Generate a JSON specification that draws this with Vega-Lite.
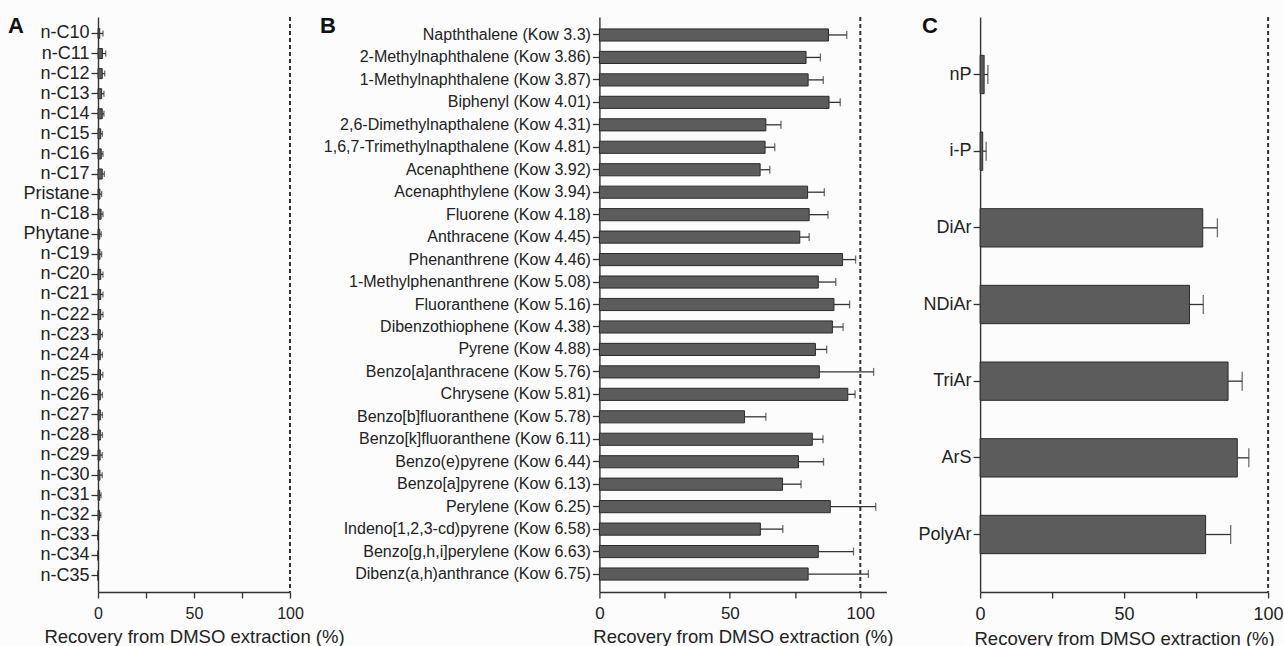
{
  "$schema": "https://vega.github.io/schema/vega-lite/v6.json",
  "background": "#fcfcfc",
  "padding": {"left": 8, "top": 15, "right": 0, "bottom": 0},
  "autosize": {"type": "pad"},
  "bounds": "flush",
  "align": "none",
  "spacing": 93.7,
  "config": {
    "view": {"stroke": null},
    "font": "Liberation Sans",
    "axis": {
      "grid": false,
      "domainColor": "#333333",
      "domainWidth": 1.4,
      "tickColor": "#333333",
      "tickWidth": 1.3,
      "labelColor": "#222222",
      "titleColor": "#222222",
      "titleFontWeight": "normal",
      "labelFont": "Liberation Sans",
      "titleFont": "Liberation Sans"
    },
    "title": {"font": "Liberation Sans", "fontWeight": "bold", "fontSize": 22, "color": "#111111", "anchor": "start", "frame": "group", "offset": 0, "baseline": "alphabetic", "dy": 26}
  },
  "datasets": {
    "a": [
      {"compound": "n-C10", "recovery": 0.9, "upper": 2.6},
      {"compound": "n-C11", "recovery": 2.3, "upper": 4.0},
      {"compound": "n-C12", "recovery": 2.2, "upper": 3.5},
      {"compound": "n-C13", "recovery": 1.9, "upper": 3.1},
      {"compound": "n-C14", "recovery": 2.2, "upper": 3.1},
      {"compound": "n-C15", "recovery": 1.4, "upper": 2.3},
      {"compound": "n-C16", "recovery": 1.7, "upper": 2.6},
      {"compound": "n-C17", "recovery": 2.2, "upper": 3.3},
      {"compound": "Pristane", "recovery": 1.0, "upper": 1.9},
      {"compound": "n-C18", "recovery": 1.6, "upper": 2.6},
      {"compound": "Phytane", "recovery": 0.9, "upper": 1.7},
      {"compound": "n-C19", "recovery": 1.0, "upper": 1.9},
      {"compound": "n-C20", "recovery": 1.4, "upper": 2.6},
      {"compound": "n-C21", "recovery": 1.4, "upper": 2.6},
      {"compound": "n-C22", "recovery": 1.4, "upper": 2.6},
      {"compound": "n-C23", "recovery": 1.2, "upper": 2.3},
      {"compound": "n-C24", "recovery": 1.2, "upper": 2.3},
      {"compound": "n-C25", "recovery": 1.3, "upper": 2.5},
      {"compound": "n-C26", "recovery": 1.2, "upper": 2.3},
      {"compound": "n-C27", "recovery": 1.2, "upper": 2.3},
      {"compound": "n-C28", "recovery": 1.2, "upper": 2.3},
      {"compound": "n-C29", "recovery": 1.1, "upper": 2.2},
      {"compound": "n-C30", "recovery": 1.0, "upper": 2.2},
      {"compound": "n-C31", "recovery": 0.9, "upper": 1.6},
      {"compound": "n-C32", "recovery": 0.8, "upper": 1.5},
      {"compound": "n-C33", "recovery": 0, "upper": 0},
      {"compound": "n-C34", "recovery": 0, "upper": 0},
      {"compound": "n-C35", "recovery": 0, "upper": 0}
    ],
    "b": [
      {"compound": "Napththalene (Kow 3.3)", "recovery": 87.8, "upper": 94.8},
      {"compound": "2-Methylnaphthalene (Kow 3.86)", "recovery": 79.2, "upper": 84.7},
      {"compound": "1-Methylnaphthalene (Kow 3.87)", "recovery": 80.0, "upper": 85.8},
      {"compound": "Biphenyl (Kow 4.01)", "recovery": 88.0, "upper": 92.3},
      {"compound": "2,6-Dimethylnapthalene (Kow 4.31)", "recovery": 63.8, "upper": 69.6},
      {"compound": "1,6,7-Trimethylnapthalene (Kow 4.81)", "recovery": 63.5, "upper": 67.2},
      {"compound": "Acenaphthene (Kow 3.92)", "recovery": 61.6, "upper": 65.3},
      {"compound": "Acenaphthylene (Kow 3.94)", "recovery": 79.8, "upper": 86.2},
      {"compound": "Fluorene (Kow 4.18)", "recovery": 80.4, "upper": 87.6},
      {"compound": "Anthracene (Kow 4.45)", "recovery": 76.8, "upper": 80.4},
      {"compound": "Phenanthrene (Kow 4.46)", "recovery": 93.2, "upper": 98.2},
      {"compound": "1-Methylphenanthrene (Kow 5.08)", "recovery": 83.9, "upper": 90.6},
      {"compound": "Fluoranthene (Kow 5.16)", "recovery": 89.9, "upper": 95.9},
      {"compound": "Dibenzothiophene (Kow 4.38)", "recovery": 89.3, "upper": 93.4},
      {"compound": "Pyrene (Kow 4.88)", "recovery": 82.8, "upper": 87.1},
      {"compound": "Benzo[a]anthracene (Kow 5.76)", "recovery": 84.3, "upper": 105.1},
      {"compound": "Chrysene (Kow 5.81)", "recovery": 95.2, "upper": 98.0},
      {"compound": "Benzo[b]fluoranthene (Kow 5.78)", "recovery": 55.6, "upper": 63.8},
      {"compound": "Benzo[k]fluoranthene (Kow 6.11)", "recovery": 81.6, "upper": 85.7},
      {"compound": "Benzo(e)pyrene (Kow 6.44)", "recovery": 76.3, "upper": 85.9},
      {"compound": "Benzo[a]pyrene (Kow 6.13)", "recovery": 70.2, "upper": 77.3},
      {"compound": "Perylene (Kow 6.25)", "recovery": 88.5, "upper": 105.9},
      {"compound": "Indeno[1,2,3-cd)pyrene (Kow 6.58)", "recovery": 61.7, "upper": 70.3},
      {"compound": "Benzo[g,h,i]perylene (Kow 6.63)", "recovery": 83.9, "upper": 97.4},
      {"compound": "Dibenz(a,h)anthrance (Kow 6.75)", "recovery": 80.0, "upper": 103.1}
    ],
    "c": [
      {"compound": "nP", "recovery": 1.4, "upper": 2.7},
      {"compound": "i-P", "recovery": 0.9, "upper": 2.1},
      {"compound": "DiAr", "recovery": 77.3, "upper": 82.4},
      {"compound": "NDiAr", "recovery": 72.7, "upper": 77.5},
      {"compound": "TriAr", "recovery": 86.1, "upper": 91.0},
      {"compound": "ArS", "recovery": 89.3, "upper": 93.3},
      {"compound": "PolyAr", "recovery": 78.3, "upper": 87.0}
    ]
  },
  "hconcat": [
    {
      "width": 192,
      "height": 575,
      "title": {"text": "A", "dx": -90},
      "layer": [
        {
          "data": {"name": "a"},
          "mark": {"type": "bar", "fill": "#5c5c5c", "stroke": "#2b2b2b", "strokeWidth": 1},
          "encoding": {
            "y": {"field": "compound", "type": "nominal", "sort": null, "scale": {"paddingInner": 0.5, "paddingOuter": 0.57}, "axis": {"title": null, "labelFontSize": 18, "tickSize": 7, "labelPadding": 2}},
            "x": {"field": "recovery", "type": "quantitative", "scale": {"domain": [0, 100], "nice": false}, "axis": {"title": "Recovery from DMSO extraction (%)", "values": [0, 25, 50, 75, 100], "labelExpr": "datum.value % 50 === 0 ? datum.label : ''", "tickSize": 6, "labelPadding": 7, "labelFontSize": 16, "titleFontSize": 18.5, "titlePadding": 6, "labelFlush": false, "labelOverlap": false}}
          }
        },
        {
          "data": {"name": "a"},
          "mark": {"type": "rule", "color": "#333333", "strokeWidth": 1.3},
          "encoding": {
            "y": {"field": "compound", "type": "nominal", "sort": null},
            "x": {"field": "recovery", "type": "quantitative"},
            "x2": {"field": "upper"}
          }
        },
        {
          "data": {"name": "a"},
          "mark": {"type": "tick", "color": "#333333", "thickness": 1.3, "size": 6},
          "encoding": {
            "y": {"field": "compound", "type": "nominal", "sort": null},
            "x": {"field": "upper", "type": "quantitative"}
          }
        },
        {
          "data": {"values": [{}]},
          "mark": {"type": "rule", "color": "#333333", "strokeWidth": 2, "strokeDash": [4, 3]},
          "encoding": {"x": {"datum": 100}}
        }
      ]
    },
    {
      "width": 121.6,
      "height": 575,
      "data": {"values": []},
      "mark": "point"
    },
    {
      "width": 287,
      "height": 575,
      "title": {"text": "B", "dx": -279.3},
      "layer": [
        {
          "data": {"name": "b"},
          "mark": {"type": "bar", "fill": "#5c5c5c", "stroke": "#2b2b2b", "strokeWidth": 1},
          "encoding": {
            "y": {"field": "compound", "type": "nominal", "sort": null, "scale": {"paddingInner": 0.46, "paddingOuter": 0.53}, "axis": {"title": null, "labelFontSize": 16, "tickSize": 7, "labelPadding": 2, "labelLimit": 400}},
            "x": {"field": "recovery", "type": "quantitative", "scale": {"domain": [0, 110], "nice": false}, "axis": {"title": "Recovery from DMSO extraction (%)", "values": [0, 25, 50, 75, 100], "labelExpr": "datum.value % 50 === 0 ? datum.label : ''", "tickSize": 6, "labelPadding": 7, "labelFontSize": 17, "titleFontSize": 18.5, "titlePadding": 6, "labelFlush": false, "labelOverlap": false}}
          }
        },
        {
          "data": {"name": "b"},
          "mark": {"type": "rule", "color": "#333333", "strokeWidth": 1.3},
          "encoding": {
            "y": {"field": "compound", "type": "nominal", "sort": null},
            "x": {"field": "recovery", "type": "quantitative"},
            "x2": {"field": "upper"}
          }
        },
        {
          "data": {"name": "b"},
          "mark": {"type": "tick", "color": "#333333", "thickness": 1.3, "size": 8},
          "encoding": {
            "y": {"field": "compound", "type": "nominal", "sort": null},
            "x": {"field": "upper", "type": "quantitative"}
          }
        },
        {
          "data": {"values": [{}]},
          "mark": {"type": "rule", "color": "#333333", "strokeWidth": 2, "strokeDash": [4, 3]},
          "encoding": {"x": {"datum": 100}}
        }
      ]
    },
    {
      "width": 288,
      "height": 575,
      "title": {"text": "C", "dx": -58},
      "layer": [
        {
          "data": {"name": "c"},
          "mark": {"type": "bar", "fill": "#5c5c5c", "stroke": "#2b2b2b", "strokeWidth": 1},
          "encoding": {
            "y": {"field": "compound", "type": "nominal", "sort": null, "scale": {"paddingInner": 0.5, "paddingOuter": 0.5}, "axis": {"title": null, "labelFontSize": 18, "tickSize": 7, "labelPadding": 2}},
            "x": {"field": "recovery", "type": "quantitative", "scale": {"domain": [0, 100], "nice": false}, "axis": {"title": "Recovery from DMSO extraction (%)", "values": [0, 25, 50, 75, 100], "labelExpr": "datum.value % 50 === 0 ? datum.label : ''", "tickSize": 6, "labelPadding": 7, "labelFontSize": 18, "titleFontSize": 18.5, "titlePadding": 6, "labelFlush": false, "labelOverlap": false}}
          }
        },
        {
          "data": {"name": "c"},
          "mark": {"type": "rule", "color": "#333333", "strokeWidth": 1.3},
          "encoding": {
            "y": {"field": "compound", "type": "nominal", "sort": null},
            "x": {"field": "recovery", "type": "quantitative"},
            "x2": {"field": "upper"}
          }
        },
        {
          "data": {"name": "c"},
          "mark": {"type": "tick", "color": "#333333", "thickness": 1.3, "size": 19},
          "encoding": {
            "y": {"field": "compound", "type": "nominal", "sort": null},
            "x": {"field": "upper", "type": "quantitative"}
          }
        },
        {
          "data": {"values": [{}]},
          "mark": {"type": "rule", "color": "#333333", "strokeWidth": 2, "strokeDash": [4, 3]},
          "encoding": {"x": {"datum": 100}}
        }
      ]
    }
  ]
}
